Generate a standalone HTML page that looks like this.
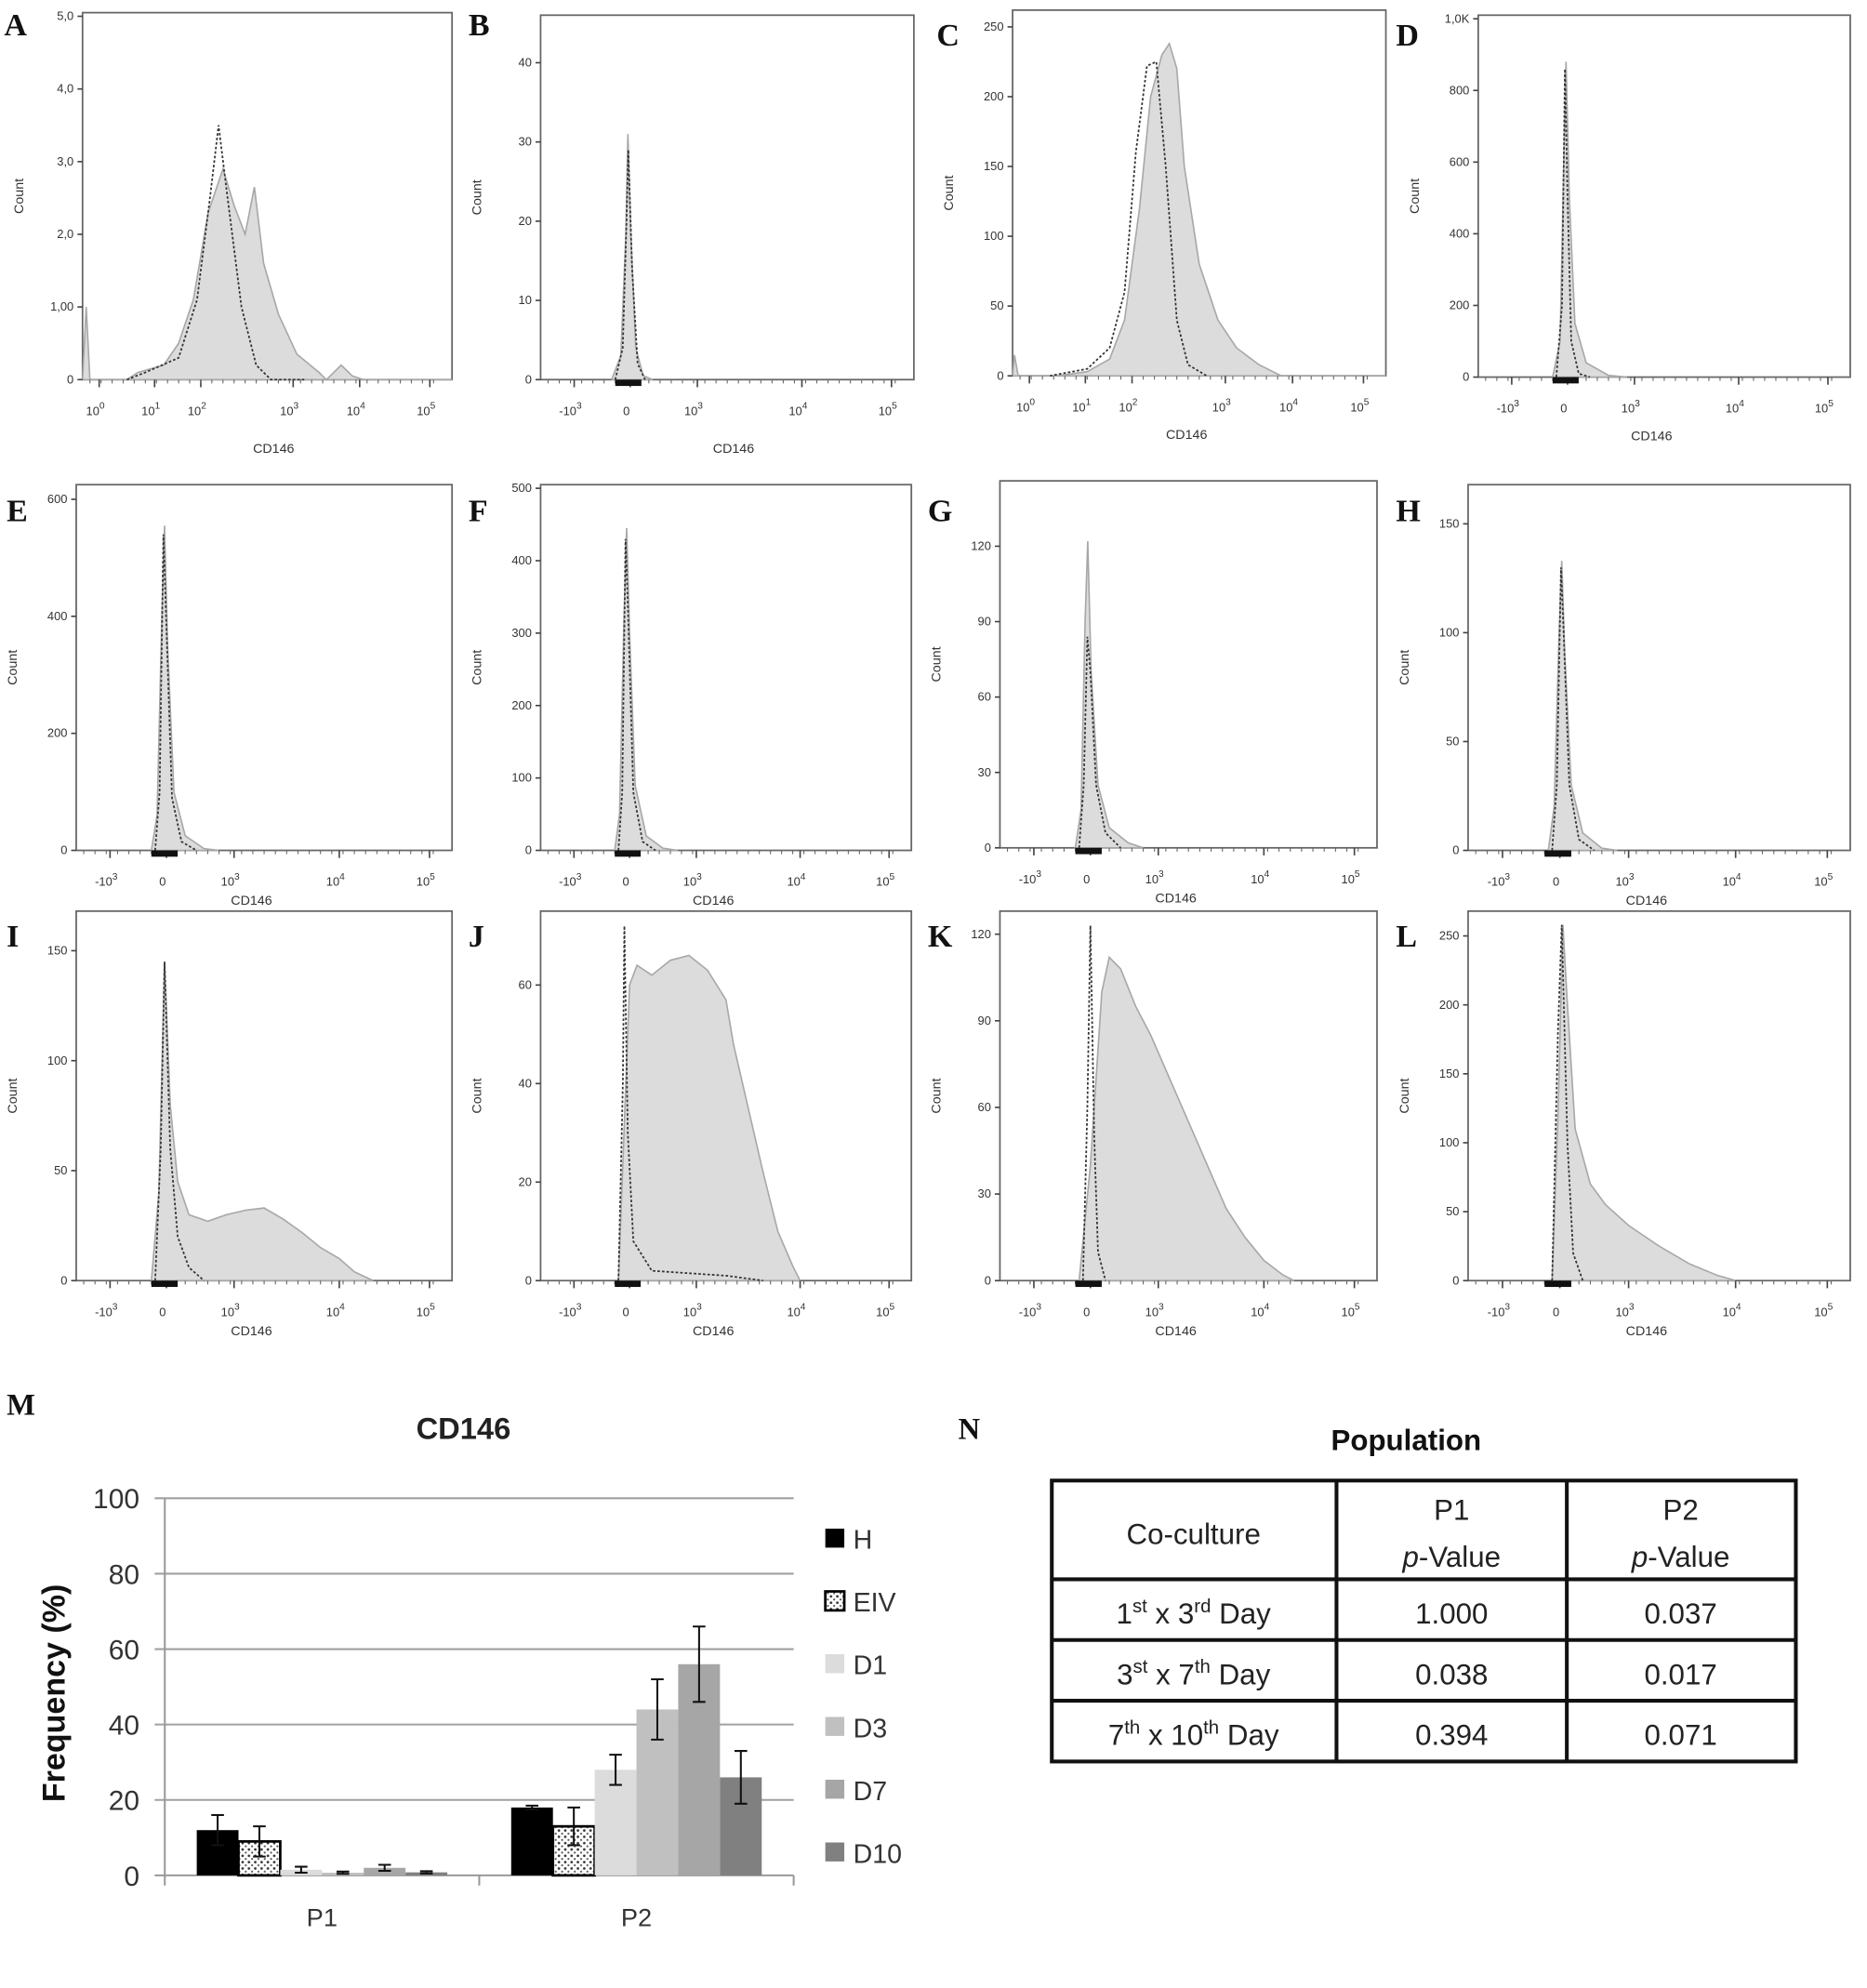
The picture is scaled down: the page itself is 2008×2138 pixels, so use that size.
<!DOCTYPE html>
<html><head><meta charset="utf-8"><style>
html,body{margin:0;padding:0;background:#fff}
svg{display:block}
</style></head><body>
<svg id="fig" width="2008" height="2138" viewBox="0 0 1475 1571" xmlns="http://www.w3.org/2000/svg" font-family="Liberation Sans, sans-serif">
<defs>
<pattern id="dots" width="5" height="5" patternUnits="userSpaceOnUse"><rect width="5" height="5" fill="#fff"/><circle cx="1.5" cy="1.5" r="1" fill="#333"/><circle cx="4" cy="4" r="0.8" fill="#555"/></pattern>
</defs>
<g id="hists"></g>
<g id="barchart"></g>
<g id="table"></g>
</svg>
<script>
// ---------- histogram data (x as fraction of frame width, y as count) ----------
const shadeA=[[0,0],[0.01,1.0],[0.02,0],[0.12,0],[0.15,0.1],[0.22,0.2],[0.26,0.5],[0.3,1.1],[0.34,2.3],[0.38,2.9],[0.41,2.4],[0.44,2.0],[0.465,2.65],[0.49,1.6],[0.53,0.9],[0.58,0.35],[0.64,0.1],[0.66,0],[0.7,0.2],[0.73,0.05],[0.76,0],[1,0]];
const dashA=[[0.12,0],[0.17,0.1],[0.26,0.3],[0.31,1.1],[0.345,2.5],[0.368,3.5],[0.39,2.6],[0.43,1.0],[0.47,0.2],[0.51,0],[0.6,0]];
const shadeB=[[0.19,0],[0.215,3],[0.228,18],[0.234,31],[0.242,18],[0.255,4],[0.275,0.5],[0.3,0]];
const dashB=[[0.2,0],[0.22,4],[0.23,20],[0.235,29],[0.245,14],[0.26,2],[0.28,0]];
const shadeC=[[0,0],[0.005,15],[0.015,0],[0.12,0],[0.2,3],[0.26,12],[0.3,40],[0.34,120],[0.37,200],[0.4,230],[0.42,238],[0.44,220],[0.46,150],[0.5,80],[0.55,40],[0.6,20],[0.66,8],[0.72,0],[1,0]];
const dashC=[[0.1,0],[0.2,5],[0.26,20],[0.3,60],[0.33,160],[0.36,222],[0.385,225],[0.41,150],[0.44,40],[0.47,8],[0.52,0]];
const shadeD=[[0.2,0],[0.22,100],[0.23,600],[0.236,880],[0.245,500],[0.26,150],[0.29,40],[0.35,5],[0.4,0]];
const dashD=[[0.21,0],[0.225,200],[0.233,860],[0.24,500],[0.25,100],[0.27,10],[0.3,0]];
const shadeE=[[0.2,0],[0.215,60],[0.228,400],[0.235,555],[0.243,350],[0.26,100],[0.29,25],[0.34,3],[0.38,0]];
const dashE=[[0.21,0],[0.222,100],[0.232,540],[0.24,380],[0.255,90],[0.28,15],[0.32,0]];
const shadeF=[[0.2,0],[0.213,50],[0.225,320],[0.232,445],[0.24,300],[0.255,90],[0.285,20],[0.33,3],[0.37,0]];
const dashF=[[0.21,0],[0.22,80],[0.229,430],[0.236,330],[0.25,80],[0.275,12],[0.31,0]];
const shadeG=[[0.2,0],[0.215,15],[0.226,90],[0.233,122],[0.242,70],[0.26,25],[0.29,8],[0.34,2],[0.38,0]];
const dashG=[[0.21,0],[0.222,25],[0.232,84],[0.24,70],[0.255,25],[0.28,6],[0.32,0]];
const shadeH=[[0.21,0],[0.225,20],[0.238,100],[0.245,133],[0.253,90],[0.27,30],[0.3,8],[0.35,1],[0.39,0]];
const dashH=[[0.22,0],[0.232,30],[0.243,130],[0.25,100],[0.265,30],[0.29,5],[0.33,0]];
const shadeI=[[0.2,0],[0.22,40],[0.235,145],[0.25,80],[0.27,45],[0.3,30],[0.35,27],[0.4,30],[0.45,32],[0.5,33],[0.55,28],[0.6,22],[0.65,15],[0.7,10],[0.74,4],[0.79,0]];
const dashI=[[0.21,0],[0.225,60],[0.235,145],[0.25,60],[0.27,20],[0.3,6],[0.34,0]];
const shadeJ=[[0.21,0],[0.225,30],[0.24,60],[0.26,64],[0.3,62],[0.35,65],[0.4,66],[0.45,63],[0.5,57],[0.52,48],[0.56,35],[0.6,22],[0.64,10],[0.68,3],[0.7,0]];
const dashJ=[[0.21,0],[0.222,40],[0.226,72],[0.235,30],[0.25,8],[0.3,2],[0.5,1],[0.6,0]];
const shadeK=[[0.21,0],[0.24,40],[0.27,100],[0.29,112],[0.32,108],[0.36,95],[0.4,85],[0.45,70],[0.5,55],[0.55,40],[0.6,25],[0.65,15],[0.7,7],[0.75,2],[0.78,0]];
const dashK=[[0.22,0],[0.232,60],[0.24,123],[0.25,50],[0.26,10],[0.28,0]];
const shadeL=[[0.22,0],[0.235,120],[0.248,258],[0.26,200],[0.28,110],[0.32,70],[0.36,55],[0.42,40],[0.5,25],[0.58,12],[0.65,4],[0.7,0]];
const dashL=[[0.22,0],[0.235,180],[0.245,258],[0.26,100],[0.275,20],[0.3,0]];

// y tick values and labels per panel
const yTicksA=[0,1,2,3,4,5], yLabelsA=["0","1,00","2,0","3,0","4,0","5,0"];
const yTicksB=[0,10,20,30,40];
const yTicksC=[0,50,100,150,200,250];
const yTicksD=[0,200,400,600,800,1000], yLabelsD=["0","200","400","600","800","1,0K"];
const yTicksE=[0,200,400,600];
const yTicksF=[0,100,200,300,400,500];
const yTicksG=[0,30,60,90,120];
const yTicksH=[0,50,100,150];
const yTicksI=[0,50,100,150];
const yTicksJ=[0,20,40,60];
const yTicksK=[0,30,60,90,120];
const yTicksL=[0,50,100,150,200,250];
const xLogLabels=["0","1","2","3","4","5"];
const xLogPos=[0.045,0.195,0.32,0.57,0.75,0.94];
const xBiLabels=["-10","0","10","10","10"];
const xBiSup=["3","","3","4","5"];
const xBiPos=[0.09,0.24,0.42,0.70,0.94];

// ---------- bar chart data ----------
const barCategories=["P1","P2"];
const barSeries=["H","EIV","D1","D3","D7","D10"];
const valuesP1=[12,9,1.5,0.7,2,0.8];
const valuesP2=[18,13,28,44,56,26];
const errorsP1=[4,4,0.8,0.3,0.8,0.3];
const errorsP2=[0.5,5,4,8,10,7];
const barYTicks=[0,20,40,60,80,100];

const NS="http://www.w3.org/2000/svg";
function mk(tag,attrs,parent){const e=document.createElementNS(NS,tag);for(const k in attrs)e.setAttribute(k,attrs[k]);parent.appendChild(e);return e;}

const panels=[
 {id:"A",x0:65,x1:357,y0:10,y1:300,ymax:5.05,yt:yTicksA,yl:yLabelsA,shade:shadeA,dash:dashA,log:true,lx:3,ly:28,row:1},
 {id:"B",x0:427,x1:722,y0:12,y1:300,ymax:46,yt:yTicksB,shade:shadeB,dash:dashB,lx:370,ly:28,row:1},
 {id:"C",x0:800,x1:1095,y0:8,y1:297,ymax:262,yt:yTicksC,shade:shadeC,dash:dashC,log:true,lx:740,ly:36,row:1},
 {id:"D",x0:1168,x1:1462,y0:12,y1:298,ymax:1010,yt:yTicksD,yl:yLabelsD,shade:shadeD,dash:dashD,lx:1103,ly:36,row:1},
 {id:"E",x0:60,x1:357,y0:383,y1:672,ymax:625,yt:yTicksE,shade:shadeE,dash:dashE,lx:5,ly:412},
 {id:"F",x0:427,x1:720,y0:383,y1:672,ymax:505,yt:yTicksF,shade:shadeF,dash:dashF,lx:370,ly:412},
 {id:"G",x0:790,x1:1088,y0:380,y1:670,ymax:146,yt:yTicksG,shade:shadeG,dash:dashG,lx:733,ly:412},
 {id:"H",x0:1160,x1:1462,y0:383,y1:672,ymax:168,yt:yTicksH,shade:shadeH,dash:dashH,lx:1103,ly:412},
 {id:"I",x0:60,x1:357,y0:720,y1:1012,ymax:168,yt:yTicksI,shade:shadeI,dash:dashI,lx:5,ly:748},
 {id:"J",x0:427,x1:720,y0:720,y1:1012,ymax:75,yt:yTicksJ,shade:shadeJ,dash:dashJ,lx:370,ly:748},
 {id:"K",x0:790,x1:1088,y0:720,y1:1012,ymax:128,yt:yTicksK,shade:shadeK,dash:dashK,lx:733,ly:748},
 {id:"L",x0:1160,x1:1462,y0:720,y1:1012,ymax:268,yt:yTicksL,shade:shadeL,dash:dashL,lx:1103,ly:748}
];
const H=document.getElementById("hists");
panels.forEach(p=>{
 const g=mk("g",{},H);
 
 
 const sx=f=>p.x0+f*(p.x1-p.x0);
 const sy=v=>p.y1-v/p.ymax*(p.y1-p.y0);
 const lab=mk("text",{x:p.lx,y:p.ly,"font-family":"Liberation Serif, serif","font-weight":"bold","font-size":25,fill:"#111"},g);lab.textContent=p.id;
 
 
 const fr=mk("rect",{x:p.x0,y:p.y0,width:p.x1-p.x0,height:p.y1-p.y0,fill:"none",stroke:"#666","stroke-width":1.3},g);
 
 
 let d="M"+sx(p.shade[0][0])+","+sy(0);
 p.shade.forEach(q=>d+=" L"+sx(q[0]).toFixed(1)+","+sy(q[1]).toFixed(1));
 d+=" L"+sx(p.shade[p.shade.length-1][0])+","+sy(0)+"Z";
 const sh=mk("path",{d:d,fill:"#dcdcdc",stroke:"#a8a8a8","stroke-width":1.2},g);
 
 
 let d2="";
 p.dash.forEach((q,i)=>d2+=(i?" L":"M")+sx(q[0]).toFixed(1)+","+sy(q[1]).toFixed(1));
 const da=mk("path",{d:d2,fill:"none",stroke:"#333","stroke-width":1.3,"stroke-dasharray":"2,1.6"},g);
 
 
 p.yt.forEach((v,i)=>{
  const y=sy(v);
  mk("line",{x1:p.x0-4,x2:p.x0,y1:y,y2:y,stroke:"#444","stroke-width":1.2},g);
  const t=mk("text",{x:p.x0-7,y:y+3,"text-anchor":"end","font-size":9.5,fill:"#333"},g);
  t.textContent=p.yl?p.yl[i]:String(v);
  
  
 });
 const ct=mk("text",{x:0,y:0,"font-size":10.5,fill:"#333","text-anchor":"middle",transform:`translate(${p.x0-47},${(p.y0+p.y1)/2}) rotate(-90)`},g);
 ct.textContent="Count";
 
 
 const pos=p.log?xLogPos:xBiPos;
 pos.forEach((f,i)=>{
  const x=sx(f);
  mk("line",{x1:x,x2:x,y1:p.y1,y2:p.y1+6,stroke:"#444","stroke-width":1.2},g);
  const t=mk("text",{x:x-3,y:p.y1+28,"text-anchor":"middle","font-size":9.5,fill:"#333"},g);
  if(p.log){t.textContent="10";const s=mk("tspan",{dy:-5,"font-size":7.5},t);s.textContent=xLogLabels[i];}
  else{t.textContent=xBiLabels[i];if(xBiSup[i]){const s=mk("tspan",{dy:-5,"font-size":7.5},t);s.textContent=xBiSup[i];}}
  
  
 });
 for(let f=0.02;f<0.98;f+=0.03){const x=sx(f);mk("line",{x1:x,x2:x,y1:p.y1,y2:p.y1+3,stroke:"#666","stroke-width":0.8},g);}
 if(!p.log){mk("rect",{x:sx(0.2),y:p.y1,width:sx(0.27)-sx(0.2),height:5,fill:"#111"},g);}
 const xt=mk("text",{x:(p.x0+p.x1)/2-(p.id==="A"||p.id==="B"?-5:10),y:p.y1+(p.row===1?(p.id==="A"||p.id==="B"?58:50):43),"text-anchor":"middle","font-size":10.5,fill:"#333"},g);
 xt.textContent="CD146";
 
 
});

// ---------- bar chart ----------
const B=document.getElementById("barchart");
const bx0=130,bx1=627,by0=1184,by1=1482;
const barY=v=>by1-v/100*(by1-by0);
const catW=(bx1-bx0)/barCategories.length;
const barW=33;
const colors=["#000","url(#dots)","#dcdcdc","#c0c0c0","#a6a6a6","#808080"];
const mt=mk("text",{x:5,y:1118,"font-family":"Liberation Serif, serif","font-weight":"bold","font-size":24,fill:"#111"},B);mt.textContent="M";


const bt=mk("text",{x:366,y:1137,"text-anchor":"middle","font-weight":"bold","font-size":24,fill:"#222"},B);bt.textContent="CD146";


barYTicks.forEach(v=>{
 const y=barY(v);
 const gl=mk("line",{x1:bx0-8,x2:bx1,y1:y,y2:y,stroke:v===0?"#999":"#a0a0a0","stroke-width":1.5},B);
 
 
 const t=mk("text",{x:bx0-20,y:y+8,"text-anchor":"end","font-size":22,fill:"#333"},B);t.textContent=v;
 
 
});
mk("line",{x1:bx0,x2:bx0,y1:by0,y2:by1+8,stroke:"#999","stroke-width":1.5},B);
[bx0+catW,bx1].forEach(x=>mk("line",{x1:x,x2:x,y1:by1,y2:by1+8,stroke:"#999","stroke-width":1.5},B));
const yt=mk("text",{x:0,y:0,"text-anchor":"middle","font-weight":"bold","font-size":25,fill:"#111",transform:`translate(51,${(by0+by1)/2+5}) rotate(-90)`},B);yt.textContent="Frequency (%)";


[valuesP1,valuesP2].forEach((vals,ci)=>{
 const errs=ci?errorsP2:errorsP1;
 const cx=bx0+catW*(ci+0.5);
 const start=cx-barW*vals.length/2;
 vals.forEach((v,i)=>{
  const x=start+i*barW;
  const r=mk("rect",{x:x,y:barY(v),width:barW,height:barY(0)-barY(v),fill:colors[i],stroke:i===1?"#000":"none","stroke-width":2},B);
  
  
  const xm=x+barW/2, e=errs[i];
  const eb=mk("path",{d:`M${xm},${barY(v+e)} V${barY(Math.max(0,v-e))} M${xm-5},${barY(v+e)} H${xm+5} M${xm-5},${barY(Math.max(0,v-e))} H${xm+5}`,stroke:"#111","stroke-width":1.5,fill:"none"},B);
  
  
 });
 const t=mk("text",{x:cx,y:1522,"text-anchor":"middle","font-size":20,fill:"#333"},B);t.textContent=barCategories[ci];
 
 
});
barSeries.forEach((s,i)=>{
 const y=1216+i*49.6;
 const sw=mk("rect",{x:652,y:y-8,width:15,height:15,fill:colors[i],stroke:i===1?"#000":"none","stroke-width":2},B);
 
 
 const t=mk("text",{x:674,y:y+8,"font-size":21,fill:"#333"},B);t.textContent=s;
 
 
});
</script>
<script>
(function(){
const T=document.getElementById("table");
function mk(tag,attrs,parent){const e=document.createElementNS("http://www.w3.org/2000/svg",tag);for(const k in attrs)e.setAttribute(k,attrs[k]);parent.appendChild(e);return e;}
const n=mk("text",{x:757,y:1137,"font-family":"Liberation Serif, serif","font-weight":"bold","font-size":24,fill:"#111"},T);n.textContent="N";


const tt=mk("text",{x:1111,y:1146,"text-anchor":"middle","font-weight":"bold","font-size":23,fill:"#111"},T);tt.textContent="Population";


const tb=mk("rect",{x:831,y:1170,width:588,height:222,fill:"none",stroke:"#111","stroke-width":3},T);


[1056,1238].forEach(x=>mk("line",{x1:x,x2:x,y1:1170,y2:1392,stroke:"#111","stroke-width":3},T));
[1248,1296,1344].forEach(y=>mk("line",{x1:831,x2:1419,y1:y,y2:y,stroke:"#111","stroke-width":3},T));
const st={"font-size":23,fill:"#222","text-anchor":"middle"};
function txt(x,y,html,name){const t=mk("text",Object.assign({x:x,y:y},st),T);t.innerHTML=html;}
txt(943,1220,"Co-culture","header-co-culture");
txt(1147,1201,"P1","header-p1");
txt(1147,1238,'<tspan font-style="italic">p</tspan>-Value',"header-p1-pvalue");
txt(1328,1201,"P2","header-p2");
txt(1328,1238,'<tspan font-style="italic">p</tspan>-Value',"header-p2-pvalue");
const rows=[["1","st","3","rd","1.000","0.037"],["3","st","7","th","0.038","0.017"],["7","th","10","th","0.394","0.071"]];
rows.forEach((r,i)=>{
 const y=1283+i*48;
 txt(943,y,`${r[0]}<tspan dy="-9" font-size="15">${r[1]}</tspan><tspan dy="9"> x ${r[2]}</tspan><tspan dy="-9" font-size="15">${r[3]}</tspan><tspan dy="9"> Day</tspan>`,"row-label-"+(i+1));
 txt(1147,y,r[4],"p1-value-"+(i+1));
 txt(1328,y,r[5],"p2-value-"+(i+1));
});
})();
</script>
</body></html>
